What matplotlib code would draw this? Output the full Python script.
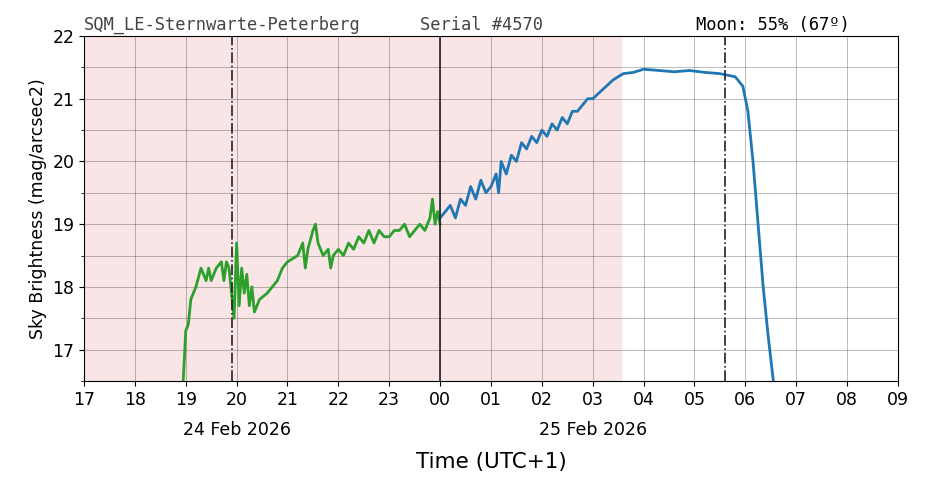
import matplotlib
matplotlib.use("Agg")
import matplotlib.pyplot as plt
from matplotlib.ticker import MultipleLocator

green_t = [18.95,19.0,19.05,19.1,19.2,19.3,19.4,19.45,19.5,19.6,19.7,19.75,19.8,19.85,19.9,19.95,20.0,20.05,20.1,20.15,20.2,20.25,20.3,20.35,20.45,20.6,20.8,20.9,21.0,21.2,21.3,21.35,21.4,21.5,21.55,21.6,21.7,21.8,21.85,21.9,22.0,22.1,22.2,22.3,22.4,22.5,22.6,22.7,22.8,22.9,23.0,23.1,23.2,23.3,23.4,23.5,23.6,23.7,23.8,23.85,23.9,23.95,24.0]
green_v = [16.5,17.3,17.4,17.8,18.0,18.3,18.1,18.3,18.1,18.3,18.4,18.1,18.4,18.3,17.9,17.5,18.7,17.7,18.3,17.9,18.2,17.7,18.0,17.6,17.8,17.9,18.1,18.3,18.4,18.5,18.7,18.3,18.6,18.9,19.0,18.7,18.5,18.6,18.3,18.5,18.6,18.5,18.7,18.6,18.8,18.7,18.9,18.7,18.9,18.8,18.8,18.9,18.9,19.0,18.8,18.9,19.0,18.9,19.1,19.4,19.0,19.2,19.0]
blue_t = [24.0,24.1,24.2,24.3,24.4,24.5,24.6,24.7,24.8,24.9,25.0,25.1,25.15,25.2,25.3,25.4,25.5,25.6,25.7,25.8,25.9,26.0,26.1,26.2,26.3,26.4,26.5,26.6,26.7,26.8,26.9,27.0,27.2,27.4,27.6,27.8,28.0,28.3,28.6,28.9,29.2,29.5,29.8,29.95,30.05,30.15,30.25,30.35,30.45,30.55]
blue_v = [19.1,19.2,19.3,19.1,19.4,19.3,19.6,19.4,19.7,19.5,19.6,19.8,19.5,20.0,19.8,20.1,20.0,20.3,20.2,20.4,20.3,20.5,20.4,20.6,20.5,20.7,20.6,20.8,20.8,20.9,21.0,21.0,21.15,21.3,21.4,21.42,21.47,21.45,21.43,21.45,21.42,21.4,21.35,21.2,20.8,20.0,19.0,18.0,17.2,16.5]
hour_labels = ["17","18","19","20","21","22","23","00","01","02","03","04","05","06","07","08","09"]
dates = ["24 Feb 2026", "25 Feb 2026"]
shade_end = 27.55
moon_lines = [19.9, 29.6]

fig = plt.figure(figsize=(9.26, 4.88), dpi=100)
ax = fig.add_axes([84/926, 1-381/488, 814/926, 345/488])
ax.axvspan(17, shade_end, color="#f9e5e5", zorder=0)
ax.plot(green_t, green_v, color="#2ca02c", lw=2, zorder=3)
ax.plot(blue_t, blue_v, color="#1f77b4", lw=2, zorder=3)
for m in moon_lines:
    ax.axvline(m, color="#222222", ls="-.", lw=1.2, zorder=4)
ax.axvline(24, color="#222222", lw=1.2, zorder=4)
ax.set_xlim(17, 33)
ax.set_ylim(16.5, 22)
ax.set_xticks(range(17, 34))
ax.set_xticklabels(hour_labels, fontsize=12.5)
ax.yaxis.set_major_locator(MultipleLocator(1))
ax.yaxis.set_minor_locator(MultipleLocator(0.5))
ax.tick_params(axis="y", labelsize=12.5)
ax.grid(True, which="both", color="#000000", alpha=0.3, lw=0.6)
ax.set_ylabel("Sky Brightness (mag/arcsec2)", fontsize=12.5)
ax.set_xlabel("Time (UTC+1)", fontsize=15.5, labelpad=31)
ax.text(20, 16.5 - 0.78, dates[0], ha="center", va="center", fontsize=12.5)
ax.text(27, 16.5 - 0.78, dates[1], ha="center", va="center", fontsize=12.5)
fig.text(84/926, 1-25/488, "SQM_LE-Sternwarte-Peterberg", family="DejaVu Sans Mono", fontsize=12.3, color="#444444", va="center")
fig.text(420/926, 1-25/488, "Serial #4570", family="DejaVu Sans Mono", fontsize=12.3, color="#444444", va="center")
fig.text(696/926, 1-25/488, "Moon: 55% (67º)", family="DejaVu Sans Mono", fontsize=12.3, color="#000000", va="center")
fig.savefig("out.png", dpi=100)
